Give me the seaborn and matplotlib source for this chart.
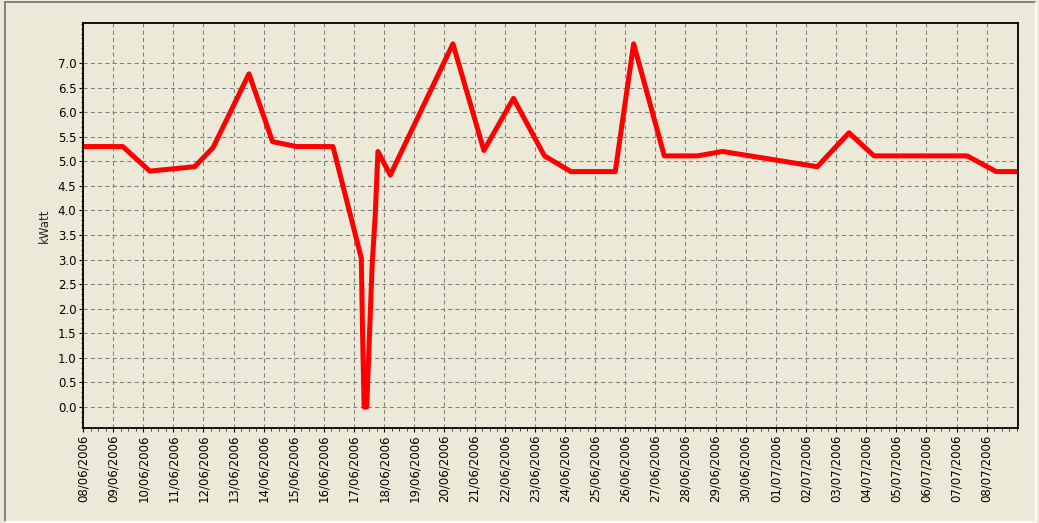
import matplotlib
matplotlib.use("Agg")
import matplotlib.pyplot as plt
import matplotlib.dates as mdates
from matplotlib.lines import Line2D
from matplotlib.ticker import MultipleLocator, FixedLocator
import seaborn as sns
import numpy as np
import pandas as pd

times = [
    "2006-06-08 00:00", "2006-06-09 07:40", "2006-06-10 05:15", "2006-06-11 17:00",
    "2006-06-12 07:40", "2006-06-13 12:15", "2006-06-14 07:00", "2006-06-15 02:00",
    "2006-06-16 07:10", "2006-06-17 05:45", "2006-06-17 06:45", "2006-06-17 08:00",
    "2006-06-17 10:05", "2006-06-17 12:00", "2006-06-17 14:25", "2006-06-17 16:50",
    "2006-06-17 19:00", "2006-06-18 04:50", "2006-06-20 06:45", "2006-06-21 07:25",
    "2006-06-22 07:00", "2006-06-23 07:40", "2006-06-24 04:50", "2006-06-25 16:05",
    "2006-06-26 06:45", "2006-06-27 07:10", "2006-06-28 09:35", "2006-06-29 05:30",
    "2006-07-02 09:05", "2006-07-03 10:20", "2006-07-04 06:15", "2006-07-07 08:25",
    "2006-07-08 07:40", "2006-07-09 00:00",
]
kwatt = [
    5.30, 5.30, 4.80, 4.89,
    5.28, 6.78, 5.40, 5.30,
    5.30, 3.03, 1.50, 0.00,
    0.00, 1.30, 2.90, 3.90,
    5.20, 4.72, 7.39, 5.22,
    6.28, 5.11, 4.79, 4.79,
    7.39, 5.11, 5.11, 5.20,
    4.89, 5.58, 5.11, 5.11,
    4.79, 4.79,
]
day_ticks = pd.date_range("2006-06-08", "2006-07-08", freq="D")
y_ticks = np.arange(0, 7.01, 0.5)

df = pd.DataFrame({"time": pd.to_datetime(times), "kWatt": kwatt})

bg = "#ECE9D8"
sns.set_style("white", {"axes.facecolor": bg, "figure.facecolor": bg})
plt.rcParams["font.family"] = ["DejaVu Sans"]

fig = plt.figure(figsize=(10.39, 5.23), dpi=100)
ax = fig.add_axes([83 / 1039, 1 - 428 / 523, (1018 - 83) / 1039, (428 - 23) / 523])

sns.lineplot(data=df, x="time", y="kWatt", color="#FF0000", linewidth=3.6, ax=ax,
             sort=False, solid_joinstyle="round", solid_capstyle="round")

ax.set_xlim(pd.Timestamp("2006-06-08"), pd.Timestamp("2006-07-09 01:00"))
ax.set_ylim(-0.427, 7.814)

ax.xaxis.set_major_locator(FixedLocator(mdates.date2num(day_ticks)))
ax.xaxis.set_major_formatter(mdates.DateFormatter("%d/%m/%Y"))
ax.xaxis.set_minor_locator(MultipleLocator(0.25))
ax.yaxis.set_major_locator(FixedLocator(y_ticks))
ax.yaxis.set_major_formatter(matplotlib.ticker.FormatStrFormatter("%.1f"))
ax.yaxis.set_minor_locator(FixedLocator(np.arange(-0.4, 7.85, 0.1)))

ax.tick_params(axis="both", which="major", direction="out", length=3.2, width=0.8,
               color="black", labelsize=8.5, labelcolor="black", pad=1.5,
               left=True, bottom=True)
ax.tick_params(axis="both", which="minor", direction="out", length=1.8, width=0.7,
               color="#404040", left=True, bottom=True)
plt.setp(ax.get_xticklabels(), rotation=90)

ax.grid(which="major", color="#808080", linestyle=(0, (4, 3)), linewidth=0.75)
ax.set_axisbelow(True)
for s in ax.spines.values():
    s.set_visible(True)
    s.set_color("black")
    s.set_linewidth(1.3)

ax.set_xlabel("")
ax.set_ylabel("kWatt", fontsize=8.5, labelpad=5)

# sunken frame around the chart
W, H = 1039, 523
fig.add_artist(Line2D([5 / W, 1036 / W], [1 - 1.5 / H, 1 - 1.5 / H], color="#707070", lw=1.2))
fig.add_artist(Line2D([5 / W, 5 / W], [1 - 1.5 / H, 1 - 521.5 / H], color="#707070", lw=1.2))
fig.add_artist(Line2D([5 / W, 1036 / W], [1 - 521.5 / H, 1 - 521.5 / H], color="#FFFFFF", lw=1.2))
fig.add_artist(Line2D([1036 / W, 1036 / W], [1 - 1.5 / H, 1 - 521.5 / H], color="#FFFFFF", lw=1.2))

plt.savefig("out.png", dpi=100, facecolor=bg)
